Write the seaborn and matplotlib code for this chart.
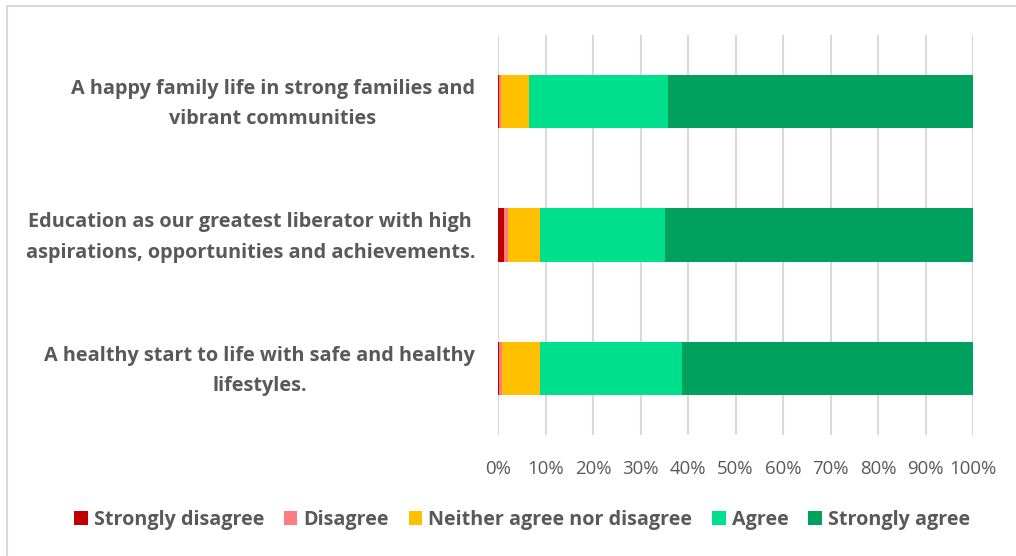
import matplotlib
matplotlib.use("Agg")
import matplotlib.pyplot as plt
from matplotlib.patches import Rectangle, Patch
from matplotlib.ticker import MultipleLocator, PercentFormatter
from matplotlib.transforms import ScaledTranslation
import seaborn as sns
import pandas as pd
import numpy as np

statements = [
    "A happy family life in strong families and\nvibrant communities",
    "Education as our greatest liberator with high\naspirations, opportunities and achievements.",
    "A healthy start to life with safe and healthy\nlifestyles.",
]
responses = ["Strongly disagree", "Disagree", "Neither agree nor disagree",
             "Agree", "Strongly agree"]
strongly_disagree = [0.2, 1.2, 0.3]
disagree = [0.5, 0.9, 0.6]
neither = [5.9, 6.8, 7.9]
agree = [29.2, 26.3, 29.9]
strongly_agree = [64.2, 64.8, 61.3]
colors = ["#C00000", "#FF7C80", "#FFC000", "#00E08C", "#00A05F"]

sns.set_theme(style="white")
plt.rcParams["font.family"] = ["Open Sans", "DejaVu Sans"]
text_color = "#595959"

df = pd.DataFrame(
    np.array([strongly_disagree, disagree, neither, agree, strongly_agree]).T,
    columns=responses,
)
df["statement"] = statements
cum = df[responses].cumsum(axis=1)

fig = plt.figure(figsize=(10.16, 5.56), dpi=100)
ax = fig.add_axes([498 / 1016, 1 - 435 / 556, 475 / 1016, 400 / 556])

# stacked bars: draw cumulative totals from the outermost segment inward
for resp, col in reversed(list(zip(responses, colors))):
    sns.barplot(x=cum[resp], y=df["statement"], color=col, width=0.4,
                orient="h", ax=ax, saturation=1, edgecolor="none", linewidth=0)

ax.set_xlim(0, 100)
ax.set_ylim(2.5, -0.5)
ax.xaxis.set_major_locator(MultipleLocator(10))
ax.xaxis.set_major_formatter(PercentFormatter(decimals=0))
ax.grid(axis="x", color="#D9D9D9", linewidth=1.5, zorder=0)
ax.set_axisbelow(True)
for s in ax.spines.values():
    s.set_visible(False)
ax.set_xlabel("")
ax.set_ylabel("")
ax.tick_params(axis="x", length=0, pad=18, labelsize=13.4, labelcolor=text_color)
ax.tick_params(axis="y", length=0, pad=16.5)
lift = ScaledTranslation(0, 5 / 100, fig.dpi_scale_trans)
for lbl in ax.get_yticklabels():
    lbl.set_fontsize(14.3)
    lbl.set_fontweight("bold")
    lbl.set_color(text_color)
    lbl.set_multialignment("center")
    lbl.set_linespacing(1.68)
    lbl.set_transform(lbl.get_transform() + lift)

handles = [Patch(facecolor=c, edgecolor="none", label=r) for r, c in zip(responses, colors)]
leg = fig.legend(handles=handles, loc="center", bbox_to_anchor=(522 / 1016, 1 - 520 / 556),
                 ncol=5, frameon=False, handlelength=0.7, handleheight=0.7,
                 handletextpad=0.3, columnspacing=1.0,
                 prop={"weight": "bold", "size": 14.2})
for t in leg.get_texts():
    t.set_color(text_color)

fig.patches.append(Rectangle((7 / 1016, -0.01), 1.02, 1 - 6 / 556 + 0.01,
                             transform=fig.transFigure, fill=False,
                             edgecolor="#D9D9D9", linewidth=1.5))

fig.savefig("out.png", dpi=100)
